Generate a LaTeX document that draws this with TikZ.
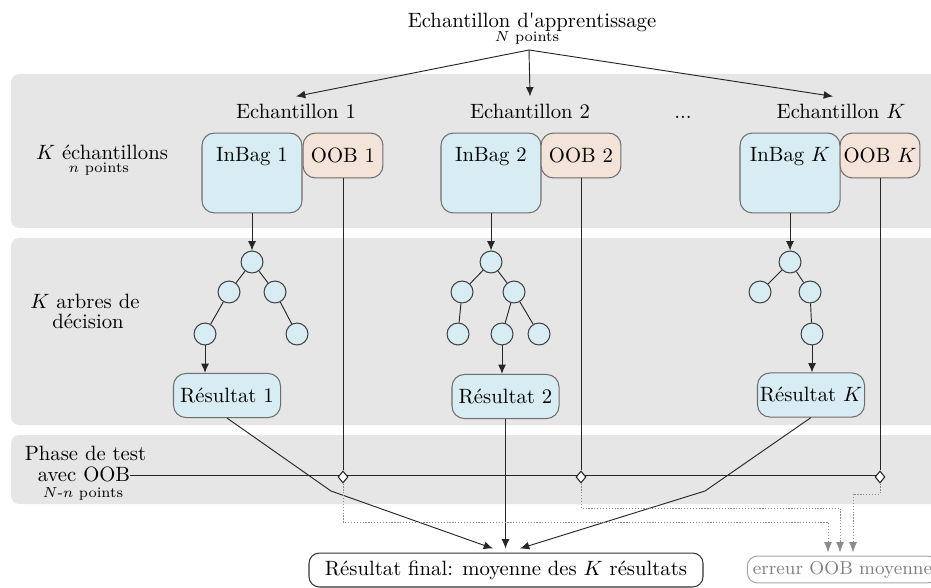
\documentclass[tikz,border=0pt]{standalone}
\usetikzlibrary{arrows.meta,shapes.geometric,calc}
\definecolor{panel}{RGB}{230,230,230}
\definecolor{bagblue}{RGB}{216,237,243}
\definecolor{oobpeach}{RGB}{243,227,216}
\definecolor{edgegray}{RGB}{110,110,110}
\pgfdeclarelayer{bg}
\pgfdeclarelayer{lines}
\pgfsetlayers{bg,lines,main}
\begin{document}
\begin{tikzpicture}[x=0.483pt,y=-0.483pt,
  box/.style={draw=edgegray, rounded corners=6pt, line width=0.5pt},
  inbag/.style={box, fill=bagblue, minimum width=48.3pt, minimum height=38.6pt, inner sep=0pt},
  oob/.style={box, fill=oobpeach, minimum width=38.6pt, minimum height=21.7pt, inner sep=0pt},
  tnode/.style={circle, draw=black!75, fill=bagblue, minimum size=10.6pt, inner sep=0pt, line width=0.5pt},
  resbox/.style={box, fill=bagblue, minimum width=51.7pt, minimum height=21.3pt, inner sep=0pt},
  finbox/.style={draw=black!80, rounded corners=5pt, fill=white, minimum width=190.3pt, minimum height=16.4pt, inner sep=0pt, line width=0.5pt},
  errbox/.style={draw=black!35, text=black!50, rounded corners=5pt, minimum width=92pt, minimum height=13pt, inner sep=0pt, line width=0.5pt},
  dmd/.style={diamond, draw=black!85, fill=white, inner sep=0pt, minimum width=4.8pt, minimum height=5.8pt, line width=0.5pt},
  link/.style={draw=black!85, line width=0.45pt},
  arr/.style={link, -{Latex[length=4.5pt,width=3.8pt]}},
  dotl/.style={draw=black!45, line width=0.4pt, dash pattern=on 0.6pt off 0.8pt, -{Latex[length=5pt,width=3.8pt,fill=black!45]}},
  txt/.style={inner sep=0pt}
]
\clip (0,0) rectangle (931,588);
\useasboundingbox (0,0) rectangle (931,588);

% panels
\begin{pgfonlayer}{bg}
\fill[panel, rounded corners=4pt] (11,74) rectangle (945,228);
\fill[panel, rounded corners=4pt] (11,238) rectangle (945,425);
\fill[panel, rounded corners=4pt] (11,435) rectangle (945,504);
\end{pgfonlayer}

% title
\node[txt] (title) at (532,22) {Echantillon d\textquotesingle apprentissage};
\node[txt] (titleN) at (527,38) {\scriptsize $N$ points};
\coordinate (src) at (529,50);

% samples
\node (e1) at (296,111) {Echantillon 1};
\node (e2) at (530,111) {Echantillon 2};
\node (edots) at (683,111) {\vphantom{Eh}...};
\node (eK) at (841,111) {Echantillon $K$};
\draw[arr] (src) -- (e1.north);
\draw[arr] (src) -- (e2.north);
\draw[arr] (src) -- ($(eK.north)+(-8,0)$);

% left labels
\node[txt] (ke) at (102,152) {$K$ échantillons};
\node[txt] (kn) at (99,169) {\scriptsize $n$ points};
\node[txt] (a1) at (85,301) {$K$ arbres de};
\node[txt] (a2) at (88,321) {décision};
\node[txt] (p1) at (85.5,453) {Phase de test};
\node[txt] (p2) at (84,474) {avec OOB};
\node[txt] (p3) at (83,494) {\scriptsize $N$-$n$ points};

% group 1
\node[inbag] (ib1) at (252,173) {};
\node[txt] (ibt1) at (252,157) {InBag 1};
\node[oob] (o1) at (343,155.5) {OOB 1};
% group 2
\node[inbag] (ib2) at (491,173) {};
\node[txt] (ibt2) at (491,157) {InBag 2};
\node[oob] (o2) at (581,155.5) {OOB 2};
% group K
\node[inbag] (ibK) at (790,173) {};
\node[txt] (ibtK) at (790,157) {InBag $K$};
\node[oob] (oK) at (880,155.5) {OOB $K$};

% tree 1
\node[tnode] (t1a) at (252,262) {};
\node[tnode] (t1b) at (229,292) {};
\node[tnode] (t1c) at (275,292) {};
\node[tnode] (t1d) at (205,334) {};
\node[tnode] (t1e) at (297,334) {};
\draw[link] (t1a) -- (t1b) (t1a) -- (t1c) (t1b) -- (t1d) (t1c) -- (t1e);
\draw[arr] (ib1) -- (t1a);
\node[resbox] (R1) at (227,395.5) {Résultat 1};
\draw[arr] (t1d) -- (t1d |- R1.north);

% tree 2
\node[tnode] (t2a) at (491,262) {};
\node[tnode] (t2b) at (462,292) {};
\node[tnode] (t2c) at (514,292) {};
\node[tnode] (t2d) at (458,334) {};
\node[tnode] (t2e) at (502,334) {};
\node[tnode] (t2f) at (539,334) {};
\draw[link] (t2a) -- (t2b) (t2a) -- (t2c) (t2b) -- (t2d) (t2c) -- (t2e) (t2c) -- (t2f);
\draw[arr] (ib2) -- (t2a);
\node[resbox] (R2) at (505.5,396.5) {Résultat 2};
\draw[arr] (t2e) -- (t2e |- R2.north);

% tree K
\node[tnode] (tKa) at (790,262) {};
\node[tnode] (tKb) at (760,292) {};
\node[tnode] (tKc) at (810,292) {};
\node[tnode] (tKd) at (812,334) {};
\draw[link] (tKa) -- (tKb) (tKa) -- (tKc) (tKc) -- (tKd);
\draw[arr] (ibK) -- (tKa);
\node[resbox] (RK) at (811,395) {Résultat $K$};
\draw[arr] (tKd) -- (tKd |- RK.north);

% test phase
\node[dmd] (d1) at (343,477) {};
\node[dmd] (d2) at (581,477) {};
\node[dmd] (dK) at (880,477) {};
\coordinate (hs) at (130,475);
\begin{pgfonlayer}{lines}
\draw[link] (hs) -- (hs -| dK);
\end{pgfonlayer}
\draw[link] (o1) -- (d1);
\draw[link] (o2) -- (d2);
\draw[link] (oK) -- (dK);

% final nodes
\node[finbox] (fin) at (506,570) {Résultat final: moyenne des $K$ résultats};
\node[errbox] (err) at (842.5,569.5) {\small erreur OOB moyenne};

\coordinate (k1) at (331,491);
\coordinate (kK) at (705,491);
\draw[arr] (R1.south) -- (k1) -- ($(fin.north)+(-13,-4)$);
\draw[arr] (R2.south) -- ($(R2.south |- fin.north)+(0,-4)$);
\draw[arr] (RK.south) -- (kK) -- ($(fin.north)+(14,-4)$);

% dotted OOB error links
\coordinate (m1) at (828,522);
\coordinate (m2) at (840,508);
\coordinate (mK) at (853,494);
\draw[dotl] (d1.south) |- (m1) -- ($(m1 |- err.north)+(0,-3)$);
\draw[dotl] (d2.south) |- (m2) -- ($(m2 |- err.north)+(0,-3)$);
\draw[dotl] (dK.south) |- (mK) -- ($(mK |- err.north)+(0,-3)$);
\end{tikzpicture}
\end{document}
